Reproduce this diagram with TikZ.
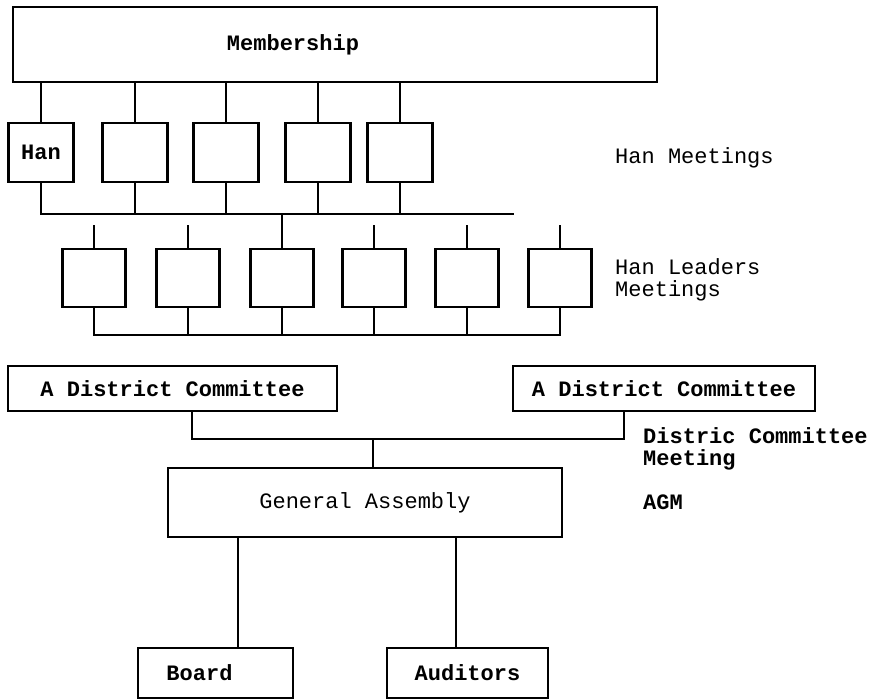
\documentclass[tikz,border=0pt]{standalone}
\usepackage{fontspec}
\setmonofont{Liberation Mono}
\usetikzlibrary{positioning}

\newcommand{\typefont}{\fontsize{22}{22.5}\selectfont\ttfamily}

\begin{document}
\begin{tikzpicture}[
    x=1pt, y=-1pt,
    unit/.style={draw, line width=2.4pt, inner sep=0pt, font=\typefont\bfseries},
    han/.style={unit, minimum width=65pt, minimum height=59pt},
    leader/.style={unit, minimum width=63pt, minimum height=58pt},
    lbl/.style={font=\typefont\bfseries},
    note/.style={anchor=north west, inner sep=0pt, align=left, font=\typefont},
    ln/.style={line width=2.4pt}
]
    \useasboundingbox (0,0) rectangle (875,700);

    % membership and the han meetings
    \node[unit, minimum width=644pt, minimum height=75pt,
          label={[lbl, xshift=-42pt]center:Membership}] (memb) at (335,44.5) {};
    \node[han] (han1) at (41,152.5) {Han};
    \foreach \x [count=\i from 2] in {135,226,318,400}
        \node[han] (han\i) at (\x,152.5) {};
    \foreach \i in {1,...,5}
        \draw[ln] (han\i.north) -- (han\i.north |- memb.south);
    \coordinate (hbus) at (514,214);
    \draw[ln] (han1.south) |- (hbus);
    \foreach \i in {2,...,5}
        \draw[ln] (han\i.south) -- (han\i.south |- hbus);
    \node[note] (hanmeet) at (615,147) {Han Meetings};

    % han leaders
    \foreach \x [count=\i] in {94,188,282,374,467,560}
        \node[leader] (ldr\i) at (\x,278) {};
    \foreach \i in {1,2,4,5,6}
        \draw[ln] (ldr\i.north) -- ++(0,-23);
    \draw[ln] (ldr3.north) -- (ldr3.north |- hbus);
    \coordinate (lbus) at (0,335);
    \draw[ln] (ldr1.south) |- (ldr6.south |- lbus) -- (ldr6.south);
    \foreach \i in {2,...,5}
        \draw[ln] (ldr\i.south) -- (ldr\i.south |- lbus);
    \node[note] (ldrmeet) at (615,258) {Han Leaders\\Meetings};

    % district committees
    \node[unit, minimum width=329pt, minimum height=45pt] (dcL) at (172.5,388.5) {A District Committee};
    \node[unit, minimum width=302pt, minimum height=45pt] (dcR) at (664,388.5) {A District Committee};
    \coordinate (dcbus) at (373,439);
    \draw[ln] ([xshift=19.5pt]dcL.south) |- (dcbus) -| ([xshift=-40pt]dcR.south);
    \node[note, font=\typefont\bfseries] (dcmeet) at (643,427) {Distric Committee\\Meeting};

    % general assembly
    \node[unit, font=\typefont, minimum width=394pt, minimum height=69pt] (ga) at (365,502.5) {General Assembly};
    \draw[ln] (dcbus) -- (dcbus |- ga.north);
    \node[note, font=\typefont\bfseries] (agm) at (643,495) {AGM};

    \node[unit, minimum width=155pt, minimum height=50pt,
          label={[lbl, xshift=-16pt]center:Board}] (board) at (215.5,673) {};
    \node[unit, minimum width=161pt, minimum height=50pt] (audit) at (467.5,673) {Auditors};
    \draw[ln] ([xshift=22.5pt]board.north) -- ([xshift=22.5pt]board.north |- ga.south);
    \draw[ln] ([xshift=-11.5pt]audit.north) -- ([xshift=-11.5pt]audit.north |- ga.south);
\end{tikzpicture}
\end{document}
